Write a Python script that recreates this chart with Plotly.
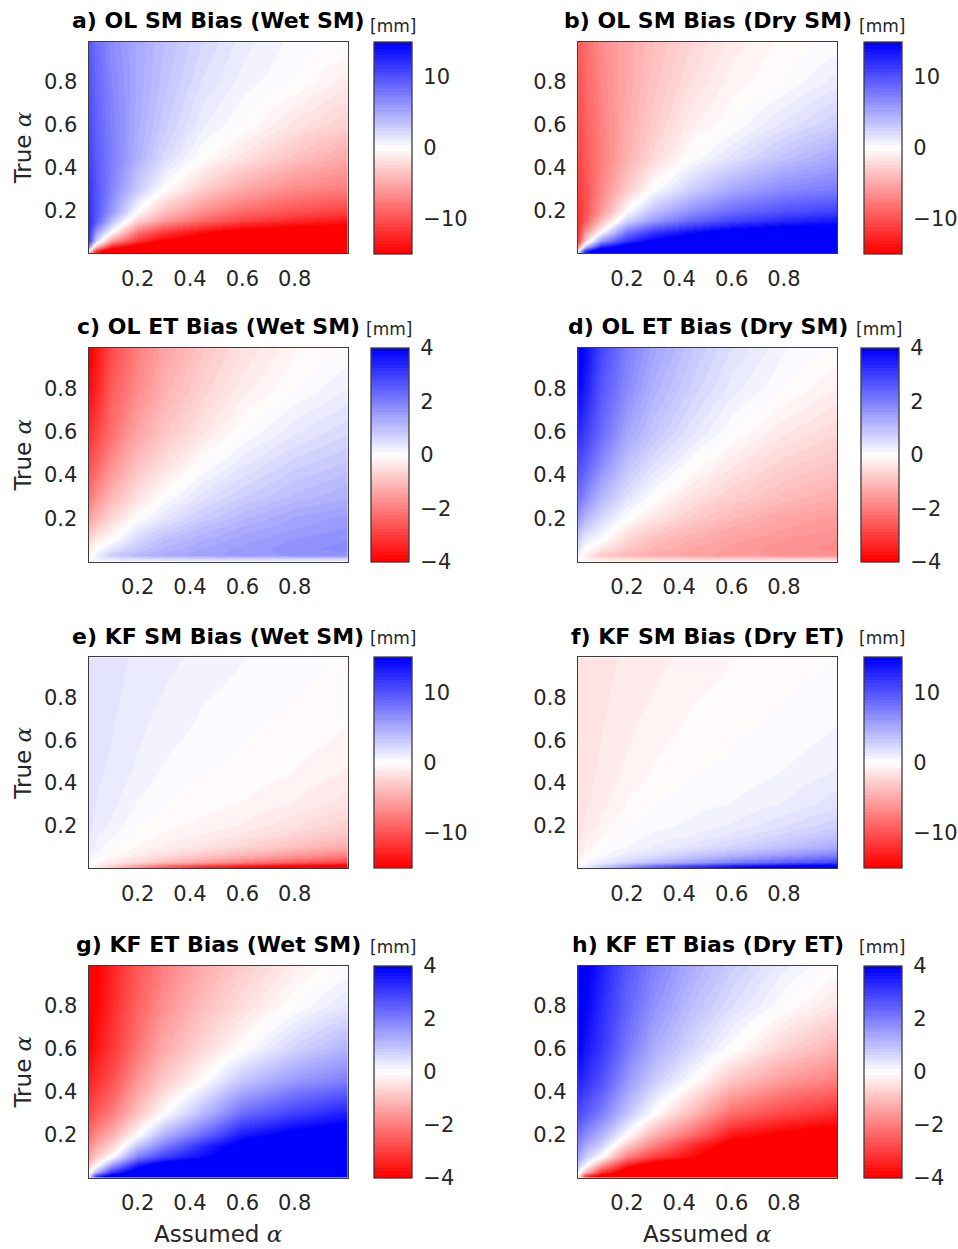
import plotly.graph_objects as go

# ---------------- data ----------------
X_ASSUMED = [0.01, 0.04, 0.1, 0.2, 0.3, 0.45, 0.6, 0.8, 1.0]
Y_TRUE = [0.01, 0.03, 0.06, 0.1, 0.15, 0.2, 0.3, 0.45, 0.6, 0.8, 1.0]

AXIS_TICKS = [0.2, 0.4, 0.6, 0.8]
AXIS_TICK_LABELS = ["0.2", "0.4", "0.6", "0.8"]
SM_CB_TICKS = [-10, 0, 10]
ET_CB_TICKS = [-4, -2, 0, 2, 4]
SM_LIMIT = 15
ET_LIMIT = 4

TITLES = [
    "a) OL SM Bias (Wet SM)", "b) OL SM Bias (Dry SM)",
    "c) OL ET Bias (Wet SM)", "d) OL ET Bias (Dry SM)",
    "e) KF SM Bias (Wet SM)", "f) KF SM Bias (Dry ET)",
    "g) KF ET Bias (Wet SM)", "h) KF ET Bias (Dry ET)",
]
UNIT_LABEL = "[mm]"

# rows: true alpha (bottom -> top), columns: assumed alpha
OL_SM_WET = [
    [0, -12, -20, -24, -26, -28, -28, -29, -30],
    [8, -4, -13, -17, -20, -22, -23, -24, -25],
    [12.5, 3, -6, -12, -15, -17, -19, -20, -21],
    [13, 6, 0, -8, -11.5, -14, -16, -17, -17],
    [12.8, 9.6, 3.7, -2.7, -6, -9, -11, -12.6, -13.5],
    [12.4, 10, 6, 0, -3.5, -6.5, -8.5, -10, -11],
    [11.9, 10, 7, 3, 0, -2.8, -5, -6.8, -7.5],
    [11.3, 9.5, 7.5, 4.5, 2.2, 0, -1.6, -3.5, -5],
    [10.8, 9.2, 7.3, 4.8, 3, 1, 0, -1.6, -2.8],
    [10.3, 8.8, 7, 5, 3.5, 1.8, 0.7, 0, -1.2],
    [10, 8.4, 6.6, 5, 3.8, 2.4, 1.2, 0.3, 0],
]
OL_SM_DRY = [
    [0, 12, 20, 24, 26, 28, 28, 29, 30],
    [-8, 4, 13, 17, 20, 22, 23, 24, 25],
    [-12.5, -3, 6, 12, 15, 17, 19, 20, 21],
    [-13, -6, 0, 8, 11.5, 14, 16, 17, 17],
    [-12.8, -9.5, -3.7, 2.7, 6, 9, 11, 12.6, 13.5],
    [-12.4, -10, -6, 0, 3.5, 6.5, 8.5, 10, 11],
    [-11.9, -10, -7, -3, 0, 2.8, 5, 6.8, 7.5],
    [-11.3, -9.5, -7.5, -4.5, -2.2, 0, 1.6, 3.5, 5],
    [-10.8, -9.2, -7.3, -4.8, -3, -1, 0, 1.6, 2.8],
    [-10.3, -8.8, -7, -5, -3.5, -1.8, -0.7, 0, 1.2],
    [-10, -8.4, -6.6, -5, -3.8, -2.4, -1.2, -0.3, 0],
]
OL_ET_WET = [
    [0, 0.2, 0.35, 0.45, 0.5, 0.55, 0.6, 0.6, 0.6],
    [-0.3, 0.25, 0.8, 1.1, 1.3, 1.45, 1.55, 1.65, 1.7],
    [-0.5, 0, 0.45, 0.9, 1.15, 1.4, 1.55, 1.7, 1.8],
    [-0.7, -0.3, 0, 0.65, 1.0, 1.25, 1.45, 1.65, 1.75],
    [-1.1, -0.7, -0.3, 0.35, 0.7, 1.05, 1.3, 1.5, 1.65],
    [-1.6, -1.1, -0.6, 0, 0.4, 0.8, 1.1, 1.4, 1.55],
    [-2.2, -1.7, -1.1, -0.45, 0, 0.45, 0.75, 1.05, 1.25],
    [-2.8, -2.4, -1.7, -0.95, -0.5, 0, 0.35, 0.7, 0.9],
    [-3.3, -2.9, -2.2, -1.4, -0.9, -0.4, 0, 0.35, 0.6],
    [-3.8, -3.4, -2.5, -1.8, -1.2, -0.7, -0.3, 0, 0.25],
    [-4.2, -3.7, -2.8, -2.0, -1.45, -0.9, -0.5, -0.15, 0],
]
OL_ET_DRY = [
    [0, -0.2, -0.35, -0.45, -0.5, -0.55, -0.6, -0.6, -0.6],
    [0.3, -0.25, -0.8, -1.1, -1.3, -1.45, -1.55, -1.65, -1.7],
    [0.5, 0, -0.45, -0.9, -1.15, -1.4, -1.55, -1.7, -1.8],
    [0.8, 0.3, 0, -0.65, -1.0, -1.25, -1.45, -1.65, -1.75],
    [1.2, 0.7, 0.3, -0.35, -0.7, -1.05, -1.3, -1.5, -1.65],
    [1.7, 1.1, 0.6, 0, -0.4, -0.8, -1.1, -1.4, -1.55],
    [2.3, 1.8, 1.1, 0.45, 0, -0.45, -0.75, -1.05, -1.25],
    [2.9, 2.5, 1.8, 0.95, 0.5, 0, -0.35, -0.7, -0.9],
    [3.4, 3.0, 2.3, 1.4, 0.9, 0.4, 0, -0.35, -0.6],
    [3.9, 3.5, 2.6, 1.8, 1.2, 0.7, 0.3, 0, -0.25],
    [4.3, 3.8, 2.9, 2.0, 1.45, 0.9, 0.5, 0.15, 0],
]
KF_SM_WET = [
    [0, -1, -3, -6, -9, -12, -14, -16, -17],
    [0.5, -0.3, -1.2, -2.5, -3.8, -5.5, -7.5, -9.5, -11],
    [1.0, 0.3, -0.3, -1.2, -2.0, -3.2, -4.4, -6, -7.5],
    [1.3, 0.8, 0, -0.5, -1.0, -1.7, -2.5, -3.7, -5],
    [1.5, 1.0, 0.5, -0.2, -0.6, -1.0, -1.6, -2.6, -3.6],
    [1.6, 1.2, 0.8, 0, -0.3, -0.6, -1.0, -1.8, -2.7],
    [1.7, 1.4, 1.1, 0.4, 0, -0.3, -0.5, -1.0, -1.7],
    [1.8, 1.5, 1.3, 0.8, 0.4, 0, -0.1, -0.5, -1.0],
    [1.8, 1.6, 1.4, 1.0, 0.6, 0.3, 0, -0.2, -0.6],
    [1.8, 1.7, 1.5, 1.2, 0.9, 0.5, 0.3, 0, -0.2],
    [1.8, 1.7, 1.6, 1.3, 1.1, 0.8, 0.5, 0.2, 0],
]
KF_SM_DRY = [
    [0, 1, 3, 6, 9, 12, 14, 16, 17],
    [-0.5, 0.3, 1.2, 2.5, 3.8, 5.5, 7.5, 9.5, 11],
    [-1.0, -0.3, 0.3, 1.2, 2.0, 3.2, 4.4, 6, 7.5],
    [-1.4, -0.8, 0, 0.5, 1.0, 1.7, 2.5, 3.7, 5],
    [-1.6, -1.1, -0.5, 0.2, 0.6, 1.0, 1.6, 2.6, 3.6],
    [-1.7, -1.3, -0.8, 0, 0.3, 0.6, 1.0, 1.8, 2.7],
    [-1.8, -1.5, -1.1, -0.4, 0, 0.3, 0.5, 1.0, 1.7],
    [-1.9, -1.6, -1.3, -0.8, -0.4, 0, 0.1, 0.5, 1.0],
    [-1.9, -1.7, -1.4, -1.0, -0.6, -0.3, 0, 0.2, 0.6],
    [-1.9, -1.8, -1.5, -1.2, -0.9, -0.5, -0.3, 0, 0.2],
    [-1.9, -1.8, -1.6, -1.3, -1.1, -0.8, -0.5, -0.2, 0],
]
KF_ET_WET = [
    [0, 3, 4.5, 5, 5, 5, 5, 5, 5],
    [-0.4, 1.0, 3.0, 4.5, 5, 5, 5, 5, 5],
    [-0.9, -0.2, 1.5, 3.5, 4.5, 5, 5, 5, 5],
    [-1.5, -0.8, 0, 2.0, 3.0, 3.8, 4.6, 5, 5],
    [-1.9, -1.3, -0.7, 0.9, 2.0, 3.3, 4.3, 4.7, 5],
    [-2.3, -1.8, -1.2, 0, 1.2, 2.3, 3.6, 4.2, 4.5],
    [-2.9, -2.5, -2.0, -0.9, 0, 1.1, 2.3, 3.0, 3.5],
    [-3.5, -3.2, -2.7, -1.6, -0.8, 0, 0.9, 1.6, 2.0],
    [-4.0, -3.6, -3.1, -2.1, -1.3, -0.6, 0, 0.7, 1.2],
    [-4.2, -3.9, -3.3, -2.4, -1.7, -1.0, -0.5, 0, 0.4],
    [-4.3, -4.0, -3.4, -2.6, -2.0, -1.3, -0.8, -0.3, 0],
]
KF_ET_DRY = [
    [0, -3, -4.5, -5, -5, -5, -5, -5, -5],
    [0.4, -1.0, -3.0, -4.5, -5, -5, -5, -5, -5],
    [0.9, 0.2, -1.5, -3.5, -4.5, -5, -5, -5, -5],
    [1.5, 0.8, 0, -2.0, -3.0, -3.8, -4.6, -5, -5],
    [1.9, 1.3, 0.7, -0.9, -2.0, -3.3, -4.3, -4.7, -5],
    [2.3, 1.8, 1.2, 0, -1.2, -2.3, -3.6, -4.1, -4.4],
    [2.9, 2.5, 2.0, 0.9, 0, -1.1, -2.3, -2.9, -3.3],
    [3.5, 3.2, 2.7, 1.6, 0.8, 0, -0.9, -1.6, -2.0],
    [4.0, 3.6, 3.1, 2.1, 1.3, 0.6, 0, -0.7, -1.2],
    [4.2, 3.9, 3.3, 2.4, 1.7, 1.0, 0.5, 0, -0.4],
    [4.4, 4.1, 3.5, 2.6, 2.0, 1.3, 0.8, 0.3, 0],
]

PANELS = [
    (OL_SM_WET, SM_LIMIT, SM_CB_TICKS), (OL_SM_DRY, SM_LIMIT, SM_CB_TICKS),
    (OL_ET_WET, ET_LIMIT, ET_CB_TICKS), (OL_ET_DRY, ET_LIMIT, ET_CB_TICKS),
    (KF_SM_WET, SM_LIMIT, SM_CB_TICKS), (KF_SM_DRY, SM_LIMIT, SM_CB_TICKS),
    (KF_ET_WET, ET_LIMIT, ET_CB_TICKS), (KF_ET_DRY, ET_LIMIT, ET_CB_TICKS),
]

# ---------------- layout / style ----------------
W, H = 958, 1249
FONT = "DejaVu Sans"
TXT = "#262626"
EDGE = "#3c3c3c"
COL_PX = [(89.3, 350.0), (581.7, 842.3)]
ROW_PX = [(41.7, 253.3), (348.0, 561.5), (657.3, 868.3), (965.7, 1177.7)]
CB_LEFT_PX = [[376.7, 869.0], [373.0, 866.0], [376.7, 869.0], [376.7, 869.0]]
CB_W = 37.5
UNIT_OFFSET = [15.5, 19.0, 19.0, 19.0]
X_RANGE = [0.013, 1.003]
Y_RANGE = [0.0, 0.988]

# stepped red-white-blue colormap (64 levels)
N = 64
colorscale = []
for i in range(N):
    t = i / (N - 1)
    if t <= 0.5:
        f = t / 0.5
        c = "rgb(255,%d,%d)" % (round(255 * f), round(255 * f))
    else:
        f = (1 - t) / 0.5
        c = "rgb(%d,%d,255)" % (round(255 * f), round(255 * f))
    colorscale.append([i / N, c])
    colorscale.append([(i + 1) / N, c])


def px_x(p):
    return p / W


def px_y(p):
    return 1 - p / H


fig = go.Figure()
annotations = []
layout = dict(
    width=W, height=H, margin=dict(l=0, r=0, t=0, b=0),
    paper_bgcolor="white", plot_bgcolor="white", showlegend=False,
    font=dict(family=FONT, color=TXT),
)

for k, (vals, lim, cbt) in enumerate(PANELS):
    r, c = divmod(k, 2)
    x0, x1 = COL_PX[c]
    top, bot = ROW_PX[r]
    idx = "" if k == 0 else str(k + 1)
    cb_left = CB_LEFT_PX[r][c]
    fig.add_trace(go.Heatmap(
        x=X_ASSUMED, y=Y_TRUE, z=vals, zmin=-lim, zmax=lim,
        colorscale=colorscale, zsmooth="best",
        xaxis="x" + idx, yaxis="y" + idx, hoverinfo="skip",
        colorbar=dict(
            x=px_x(cb_left), xanchor="left", xref="paper",
            y=px_y((top + bot) / 2), yanchor="middle", yref="paper",
            len=bot - top, lenmode="pixels",
            thickness=CB_W, thicknessmode="pixels",
            xpad=0, ypad=0,
            outlinecolor=EDGE, outlinewidth=1.3,
            tickvals=cbt, ticks="outside", ticklen=7,
            tickcolor="rgba(0,0,0,0)",
            tickfont=dict(family=FONT, size=21, color=TXT),
        ),
    ))
    axstyle = dict(
        showline=True, mirror=True, linecolor=EDGE, linewidth=1.3,
        showgrid=False, zeroline=False, tickvals=AXIS_TICKS,
        ticktext=AXIS_TICK_LABELS, ticks="outside", ticklen=6,
        tickcolor="rgba(0,0,0,0)",
        tickfont=dict(family=FONT, size=21, color=TXT),
    )
    layout["xaxis" + idx] = dict(
        axstyle, domain=[px_x(x0), px_x(x1)], range=X_RANGE,
        anchor="y" + idx)
    layout["yaxis" + idx] = dict(
        axstyle, domain=[px_y(bot), px_y(top)], range=Y_RANGE,
        anchor="x" + idx)
    # panel title
    annotations.append(dict(
        text=TITLES[k], x=px_x((x0 + x1) / 2), y=px_y(top - 21),
        xref="paper", yref="paper", xanchor="center", yanchor="middle",
        showarrow=False,
        font=dict(family=FONT, size=22, color="black", weight="bold"),
    ))
    # unit label
    annotations.append(dict(
        text=UNIT_LABEL, x=px_x(cb_left + CB_W / 2), y=px_y(top - UNIT_OFFSET[r]),
        xref="paper", yref="paper", xanchor="center", yanchor="middle",
        showarrow=False, font=dict(family=FONT, size=17, color=TXT),
    ))
    if c == 0:
        annotations.append(dict(
            text="True <span style=\"font-family:'DejaVu Serif'\"><i>α</i></span>",
            x=px_x(23), y=px_y((top + bot) / 2), textangle=-90,
            xref="paper", yref="paper", xanchor="center", yanchor="middle",
            showarrow=False, font=dict(family=FONT, size=23, color=TXT),
        ))
    if r == 3:
        annotations.append(dict(
            text="Assumed <span style=\"font-family:'DejaVu Serif'\"><i>α</i></span>",
            x=px_x((x0 + x1) / 2), y=px_y(1234), textangle=0,
            xref="paper", yref="paper", xanchor="center", yanchor="middle",
            showarrow=False, font=dict(family=FONT, size=23, color=TXT),
        ))

layout["annotations"] = annotations
fig.update_layout(**layout)
fig.write_html("out.html")
